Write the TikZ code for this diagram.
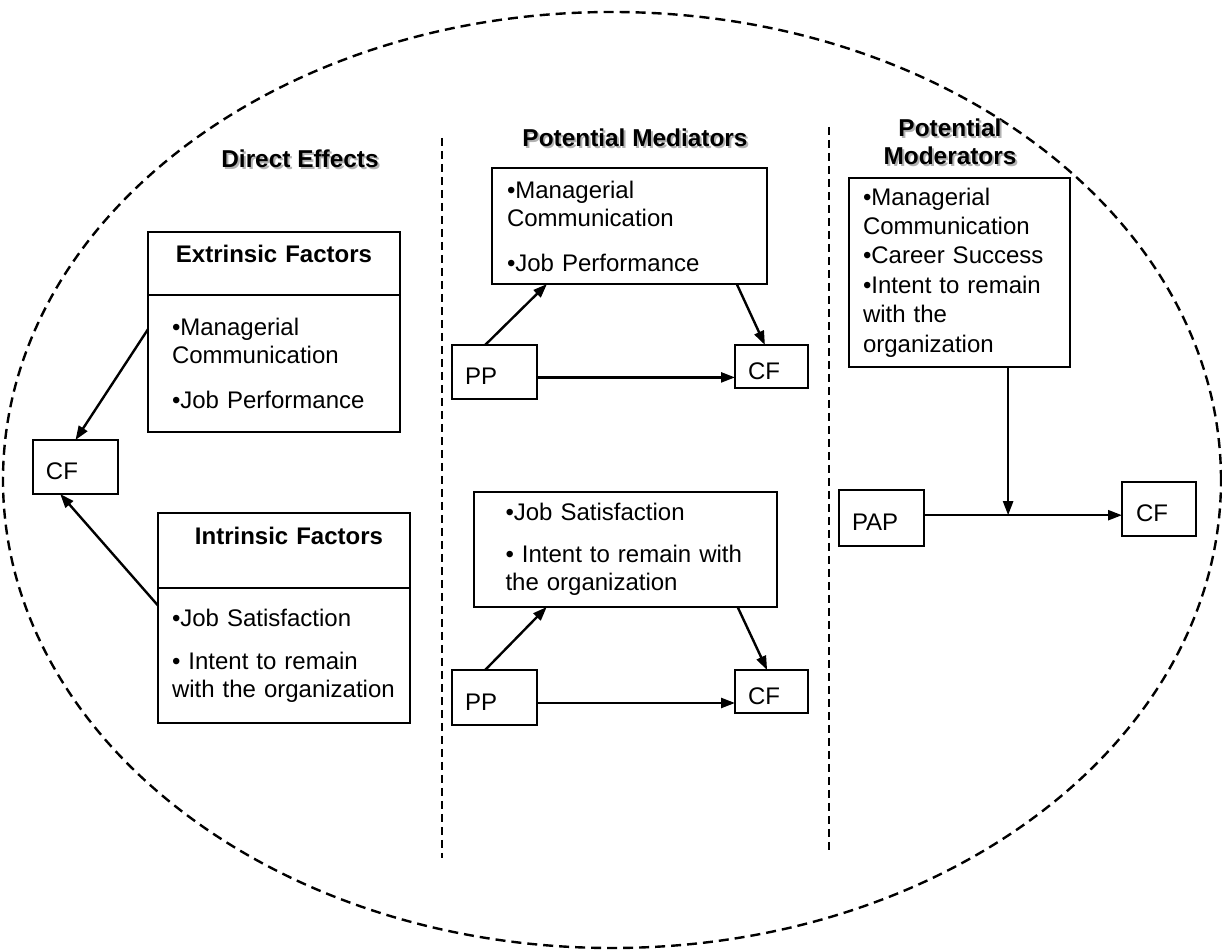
\documentclass[tikz,border=0pt]{standalone}
\usepackage{fontspec}
\setmainfont{Liberation Sans}
\usetikzlibrary{arrows.meta,calc}
\newcommand{\shadowed}[1]{\makebox[0pt][l]{\hspace{1pt}\raisebox{-1pt}{\textcolor{black!30}{#1}}}#1}

\begin{document}
\begin{tikzpicture}[x=0.5pt,y=-0.5pt,
    box/.style={draw,line width=1.4pt,outer sep=0pt,anchor=north west,align=left,font=\fontsize{12}{14}\selectfont},
    headbox/.style={box,align=center,font=\fontsize{12}{14}\selectfont\bfseries,text height=9pt},
    smallbox/.style={box,inner xsep=6.5pt,text height=13pt,text depth=0pt},
    heading/.style={font=\fontsize{12.2}{14}\selectfont\bfseries,align=center},
    arr/.style={line width=1.2pt,-{Triangle[length=7pt,width=5pt]}},
    sep/.style={line width=1.4pt,dash pattern=on 4pt off 2.5pt}]
    \useasboundingbox (0,0) rectangle (1222,951);
    \draw[line width=1.2pt,dash pattern=on 5pt off 3pt] (612,480) ellipse [x radius=304.5pt,y radius=234pt];
    \draw[sep] (442,138) -- (442,858);
    \draw[sep] (829,127) -- (829,850);

    \node[heading] (de-title) at (300,160) {\shadowed{Direct Effects}};
    \node[heading] (med-title) at (635,139) {\shadowed{Potential Mediators}};
    \node[heading] (mod-title) at (950,143) {\shadowed{Potential}\\\shadowed{Moderators}};

    % direct effects
    \node[headbox,text width=118pt,inner xsep=4pt,minimum height=31.5pt,text depth=9.5pt] (ext-head) at (148,232) {Extrinsic Factors\hspace{5pt}};
    \node[box,text width=102pt,inner xsep=12pt,minimum height=68.5pt] (ext-body) at (ext-head.south west) {•Managerial\\Communication\\[8.5pt]•Job Performance};
    \node[smallbox,text width=29.5pt,minimum height=27pt] (cf-de) at (33,440) {CF};
    \node[headbox,text width=118pt,inner xsep=4pt,minimum height=37.5pt,text depth=14.5pt] (int-head) at (158,513) {\hspace{5pt}Intrinsic Factors};
    \node[box,text width=112pt,inner xsep=7pt,minimum height=67.5pt] (int-body) at (int-head.south west) {•Job Satisfaction\\[7.5pt]• Intent to remain\\with the organization};
    \draw[arr] ($(ext-body.north west)!0.25!(ext-body.south west)$) -- (cf-de.north);
    \draw[arr] ($(int-body.north west)!0.13!(int-body.south west)$) -- ($(cf-de.south west)!0.32!(cf-de.south east)$);

    % mediators
    \node[box,text width=122.5pt,inner xsep=7.5pt,minimum height=58pt] (med-a) at (492,168) {•Managerial\\Communication\\[8.5pt]•Job Performance};
    \node[smallbox,text width=29.5pt,minimum height=27pt] (pp-a) at (452,345) {PP};
    \node[smallbox,text width=23.5pt,minimum height=21.5pt] (cf-a) at (735,345) {CF};
    \draw[arr] ($(pp-a.north west)!0.39!(pp-a.north east)$) -- ($(med-a.south west)!0.2!(med-a.south east)$);
    \draw[arr] ($(med-a.south west)!0.89!(med-a.south east)$) -- ($(cf-a.north west)!0.41!(cf-a.north east)$);
    \draw[arr] ($(pp-a.north east)!0.6!(pp-a.south east)$) coordinate (pp-a-out) -- (pp-a-out -| cf-a.west);

    \node[box,text width=120pt,inner xsep=15.75pt,minimum height=57.5pt] (med-b) at (474,492) {•Job Satisfaction\\[7pt]• Intent to remain with\\the organization};
    \node[smallbox,text width=29.5pt,minimum height=27.5pt] (pp-b) at (452,670) {PP};
    \node[smallbox,text width=23.5pt,minimum height=21.5pt] (cf-b) at (735,670) {CF};
    \draw[arr] ($(pp-b.north west)!0.39!(pp-b.north east)$) -- ($(med-b.south west)!0.24!(med-b.south east)$);
    \draw[arr] ($(med-b.south west)!0.87!(med-b.south east)$) -- ($(cf-b.north west)!0.44!(cf-b.north east)$);
    \draw[arr] ($(pp-b.north east)!0.6!(pp-b.south east)$) coordinate (pp-b-out) -- (pp-b-out -| cf-b.west);

    % moderators
    \node[box,text width=96.5pt,inner xsep=7pt,minimum height=94.5pt,font=\fontsize{12}{14.7}\selectfont] (mod) at (849,178) {•Managerial\\Communication\\•Career Success\\•Intent to remain\\with the\\organization};
    \node[smallbox,text width=29.5pt,minimum height=28pt] (pap) at (839,490) {PAP};
    \node[smallbox,text width=23pt,inner xsep=7pt,minimum height=27pt] (cf-mo) at (1122,482) {CF};
    \draw[arr] ($(pap.north east)!0.45!(pap.south east)$) coordinate (pap-out) -- (pap-out -| cf-mo.west);
    \coordinate (mod-foot) at ($(mod.south west)!0.72!(mod.south east)$);
    \draw[arr] (mod-foot) -- (mod-foot |- pap-out);
\end{tikzpicture}
\end{document}
